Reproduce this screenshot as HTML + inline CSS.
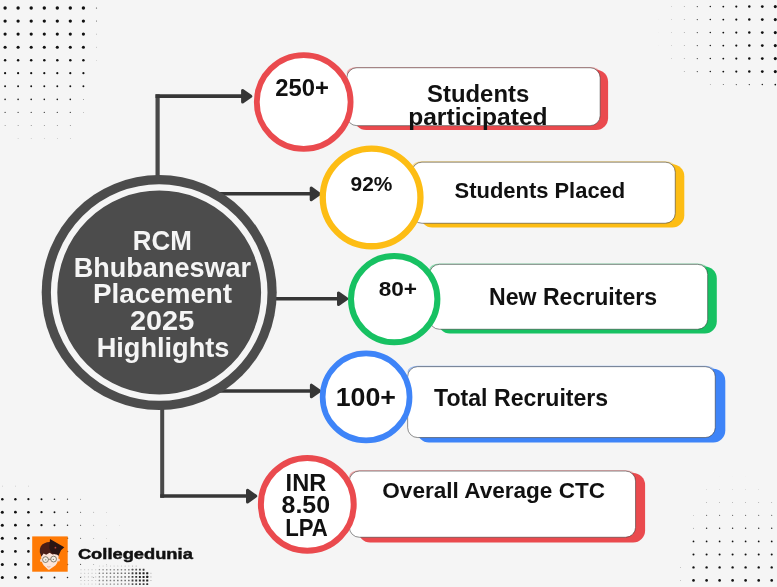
<!DOCTYPE html>
<html><head><meta charset="utf-8"><title>RCM Bhubaneswar Placement 2025 Highlights</title>
<style>html,body{margin:0;padding:0;background:#f5f5f5;}body{width:777px;height:587px;overflow:hidden;font-family:"Liberation Sans",sans-serif;}svg{display:block;will-change:transform;}text{font-family:"Liberation Sans",sans-serif;font-weight:bold;}</style>
</head><body>
<svg width="777" height="587" viewBox="0 0 777 587">
<rect width="777" height="587" fill="#f5f5f5"/>
<g><circle cx="5.1" cy="8.0" r="1.70" fill="#111" fill-opacity="1.00"/><circle cx="18.1" cy="8.0" r="1.70" fill="#111" fill-opacity="1.00"/><circle cx="31.2" cy="8.0" r="1.70" fill="#111" fill-opacity="1.00"/><circle cx="44.3" cy="8.0" r="1.70" fill="#111" fill-opacity="1.00"/><circle cx="57.3" cy="8.0" r="1.70" fill="#111" fill-opacity="1.00"/><circle cx="70.3" cy="8.0" r="1.70" fill="#111" fill-opacity="1.00"/><circle cx="83.4" cy="8.0" r="1.70" fill="#111" fill-opacity="1.00"/><circle cx="96.5" cy="8.0" r="0.60" fill="#111" fill-opacity="0.80"/><circle cx="5.1" cy="21.1" r="1.65" fill="#111" fill-opacity="1.00"/><circle cx="18.1" cy="21.1" r="1.65" fill="#111" fill-opacity="1.00"/><circle cx="31.2" cy="21.1" r="1.65" fill="#111" fill-opacity="1.00"/><circle cx="44.3" cy="21.1" r="1.65" fill="#111" fill-opacity="1.00"/><circle cx="57.3" cy="21.1" r="1.65" fill="#111" fill-opacity="1.00"/><circle cx="70.3" cy="21.1" r="1.65" fill="#111" fill-opacity="1.00"/><circle cx="83.4" cy="21.1" r="1.65" fill="#111" fill-opacity="1.00"/><circle cx="96.5" cy="21.1" r="0.50" fill="#111" fill-opacity="0.72"/><circle cx="5.1" cy="34.1" r="1.60" fill="#111" fill-opacity="1.00"/><circle cx="18.1" cy="34.1" r="1.60" fill="#111" fill-opacity="1.00"/><circle cx="31.2" cy="34.1" r="1.60" fill="#111" fill-opacity="1.00"/><circle cx="44.3" cy="34.1" r="1.60" fill="#111" fill-opacity="1.00"/><circle cx="57.3" cy="34.1" r="1.60" fill="#111" fill-opacity="1.00"/><circle cx="70.3" cy="34.1" r="1.60" fill="#111" fill-opacity="1.00"/><circle cx="83.4" cy="34.1" r="1.60" fill="#111" fill-opacity="1.00"/><circle cx="96.5" cy="34.1" r="0.40" fill="#111" fill-opacity="0.65"/><circle cx="5.1" cy="47.2" r="1.55" fill="#111" fill-opacity="1.00"/><circle cx="18.1" cy="47.2" r="1.55" fill="#111" fill-opacity="1.00"/><circle cx="31.2" cy="47.2" r="1.55" fill="#111" fill-opacity="1.00"/><circle cx="44.3" cy="47.2" r="1.55" fill="#111" fill-opacity="1.00"/><circle cx="57.3" cy="47.2" r="1.55" fill="#111" fill-opacity="1.00"/><circle cx="70.3" cy="47.2" r="1.55" fill="#111" fill-opacity="1.00"/><circle cx="83.4" cy="47.2" r="1.55" fill="#111" fill-opacity="1.00"/><circle cx="96.5" cy="47.2" r="0.35" fill="#111" fill-opacity="0.61"/><circle cx="5.1" cy="60.2" r="1.25" fill="#111" fill-opacity="1.00"/><circle cx="18.1" cy="60.2" r="1.25" fill="#111" fill-opacity="1.00"/><circle cx="31.2" cy="60.2" r="1.25" fill="#111" fill-opacity="1.00"/><circle cx="44.3" cy="60.2" r="1.25" fill="#111" fill-opacity="1.00"/><circle cx="57.3" cy="60.2" r="1.25" fill="#111" fill-opacity="1.00"/><circle cx="70.3" cy="60.2" r="1.25" fill="#111" fill-opacity="1.00"/><circle cx="83.4" cy="60.2" r="1.25" fill="#111" fill-opacity="1.00"/><circle cx="96.5" cy="60.2" r="0.30" fill="#111" fill-opacity="0.57"/><circle cx="5.1" cy="73.2" r="1.10" fill="#111" fill-opacity="1.00"/><circle cx="18.1" cy="73.2" r="1.10" fill="#111" fill-opacity="1.00"/><circle cx="31.2" cy="73.2" r="1.10" fill="#111" fill-opacity="1.00"/><circle cx="44.3" cy="73.2" r="1.10" fill="#111" fill-opacity="1.00"/><circle cx="57.3" cy="73.2" r="1.10" fill="#111" fill-opacity="1.00"/><circle cx="70.3" cy="73.2" r="1.10" fill="#111" fill-opacity="1.00"/><circle cx="83.4" cy="73.2" r="1.10" fill="#111" fill-opacity="1.00"/><circle cx="5.1" cy="86.3" r="0.95" fill="#111" fill-opacity="1.00"/><circle cx="18.1" cy="86.3" r="0.95" fill="#111" fill-opacity="1.00"/><circle cx="31.2" cy="86.3" r="0.95" fill="#111" fill-opacity="1.00"/><circle cx="44.3" cy="86.3" r="0.95" fill="#111" fill-opacity="1.00"/><circle cx="57.3" cy="86.3" r="0.95" fill="#111" fill-opacity="1.00"/><circle cx="70.3" cy="86.3" r="0.95" fill="#111" fill-opacity="1.00"/><circle cx="83.4" cy="86.3" r="0.95" fill="#111" fill-opacity="1.00"/><circle cx="5.1" cy="99.4" r="0.80" fill="#111" fill-opacity="0.95"/><circle cx="18.1" cy="99.4" r="0.80" fill="#111" fill-opacity="0.95"/><circle cx="31.2" cy="99.4" r="0.80" fill="#111" fill-opacity="0.95"/><circle cx="44.3" cy="99.4" r="0.80" fill="#111" fill-opacity="0.95"/><circle cx="57.3" cy="99.4" r="0.80" fill="#111" fill-opacity="0.95"/><circle cx="70.3" cy="99.4" r="0.80" fill="#111" fill-opacity="0.95"/><circle cx="83.4" cy="99.4" r="0.48" fill="#111" fill-opacity="0.71"/><circle cx="5.1" cy="112.4" r="0.62" fill="#111" fill-opacity="0.81"/><circle cx="18.1" cy="112.4" r="0.62" fill="#111" fill-opacity="0.81"/><circle cx="31.2" cy="112.4" r="0.62" fill="#111" fill-opacity="0.81"/><circle cx="44.3" cy="112.4" r="0.62" fill="#111" fill-opacity="0.81"/><circle cx="57.3" cy="112.4" r="0.62" fill="#111" fill-opacity="0.81"/><circle cx="70.3" cy="112.4" r="0.62" fill="#111" fill-opacity="0.81"/><circle cx="83.4" cy="112.4" r="0.37" fill="#111" fill-opacity="0.63"/><circle cx="5.1" cy="125.5" r="0.48" fill="#111" fill-opacity="0.71"/><circle cx="18.1" cy="125.5" r="0.48" fill="#111" fill-opacity="0.71"/><circle cx="31.2" cy="125.5" r="0.48" fill="#111" fill-opacity="0.71"/><circle cx="44.3" cy="125.5" r="0.48" fill="#111" fill-opacity="0.71"/><circle cx="57.3" cy="125.5" r="0.48" fill="#111" fill-opacity="0.71"/><circle cx="70.3" cy="125.5" r="0.48" fill="#111" fill-opacity="0.71"/><circle cx="18.1" cy="138.5" r="0.36" fill="#111" fill-opacity="0.62"/><circle cx="31.2" cy="138.5" r="0.36" fill="#111" fill-opacity="0.62"/><circle cx="44.3" cy="138.5" r="0.36" fill="#111" fill-opacity="0.62"/><circle cx="57.3" cy="138.5" r="0.36" fill="#111" fill-opacity="0.62"/><circle cx="70.3" cy="138.5" r="0.36" fill="#111" fill-opacity="0.62"/></g>
<g><circle cx="671.3" cy="6.6" r="0.30" fill="#111" fill-opacity="0.58"/><circle cx="684.3" cy="6.6" r="0.46" fill="#111" fill-opacity="0.69"/><circle cx="697.3" cy="6.6" r="0.61" fill="#111" fill-opacity="0.81"/><circle cx="710.3" cy="6.6" r="0.77" fill="#111" fill-opacity="0.93"/><circle cx="723.3" cy="6.6" r="0.93" fill="#111" fill-opacity="1.00"/><circle cx="736.3" cy="6.6" r="1.08" fill="#111" fill-opacity="1.00"/><circle cx="749.3" cy="6.6" r="1.23" fill="#111" fill-opacity="1.00"/><circle cx="762.3" cy="6.6" r="1.39" fill="#111" fill-opacity="1.00"/><circle cx="775.3" cy="6.6" r="1.54" fill="#111" fill-opacity="1.00"/><circle cx="658.3" cy="19.6" r="0.15" fill="#111" fill-opacity="0.46"/><circle cx="671.3" cy="19.6" r="0.30" fill="#111" fill-opacity="0.58"/><circle cx="684.3" cy="19.6" r="0.46" fill="#111" fill-opacity="0.69"/><circle cx="697.3" cy="19.6" r="0.61" fill="#111" fill-opacity="0.81"/><circle cx="710.3" cy="19.6" r="0.77" fill="#111" fill-opacity="0.93"/><circle cx="723.3" cy="19.6" r="0.93" fill="#111" fill-opacity="1.00"/><circle cx="736.3" cy="19.6" r="1.08" fill="#111" fill-opacity="1.00"/><circle cx="749.3" cy="19.6" r="1.23" fill="#111" fill-opacity="1.00"/><circle cx="762.3" cy="19.6" r="1.39" fill="#111" fill-opacity="1.00"/><circle cx="775.3" cy="19.6" r="1.54" fill="#111" fill-opacity="1.00"/><circle cx="658.3" cy="32.6" r="0.15" fill="#111" fill-opacity="0.46"/><circle cx="671.3" cy="32.6" r="0.30" fill="#111" fill-opacity="0.58"/><circle cx="684.3" cy="32.6" r="0.46" fill="#111" fill-opacity="0.69"/><circle cx="697.3" cy="32.6" r="0.61" fill="#111" fill-opacity="0.81"/><circle cx="710.3" cy="32.6" r="0.77" fill="#111" fill-opacity="0.93"/><circle cx="723.3" cy="32.6" r="0.93" fill="#111" fill-opacity="1.00"/><circle cx="736.3" cy="32.6" r="1.08" fill="#111" fill-opacity="1.00"/><circle cx="749.3" cy="32.6" r="1.23" fill="#111" fill-opacity="1.00"/><circle cx="762.3" cy="32.6" r="1.39" fill="#111" fill-opacity="1.00"/><circle cx="775.3" cy="32.6" r="1.54" fill="#111" fill-opacity="1.00"/><circle cx="658.3" cy="45.6" r="0.15" fill="#111" fill-opacity="0.46"/><circle cx="671.3" cy="45.6" r="0.30" fill="#111" fill-opacity="0.58"/><circle cx="684.3" cy="45.6" r="0.46" fill="#111" fill-opacity="0.69"/><circle cx="697.3" cy="45.6" r="0.61" fill="#111" fill-opacity="0.81"/><circle cx="710.3" cy="45.6" r="0.77" fill="#111" fill-opacity="0.93"/><circle cx="723.3" cy="45.6" r="0.93" fill="#111" fill-opacity="1.00"/><circle cx="736.3" cy="45.6" r="1.08" fill="#111" fill-opacity="1.00"/><circle cx="749.3" cy="45.6" r="1.23" fill="#111" fill-opacity="1.00"/><circle cx="762.3" cy="45.6" r="1.39" fill="#111" fill-opacity="1.00"/><circle cx="775.3" cy="45.6" r="1.54" fill="#111" fill-opacity="1.00"/><circle cx="671.3" cy="58.6" r="0.30" fill="#111" fill-opacity="0.58"/><circle cx="684.3" cy="58.6" r="0.46" fill="#111" fill-opacity="0.69"/><circle cx="697.3" cy="58.6" r="0.61" fill="#111" fill-opacity="0.81"/><circle cx="710.3" cy="58.6" r="0.77" fill="#111" fill-opacity="0.93"/><circle cx="723.3" cy="58.6" r="0.93" fill="#111" fill-opacity="1.00"/><circle cx="736.3" cy="58.6" r="1.08" fill="#111" fill-opacity="1.00"/><circle cx="749.3" cy="58.6" r="1.23" fill="#111" fill-opacity="1.00"/><circle cx="762.3" cy="58.6" r="1.39" fill="#111" fill-opacity="1.00"/><circle cx="775.3" cy="58.6" r="1.54" fill="#111" fill-opacity="1.00"/><circle cx="684.3" cy="71.6" r="0.46" fill="#111" fill-opacity="0.69"/><circle cx="697.3" cy="71.6" r="0.61" fill="#111" fill-opacity="0.81"/><circle cx="710.3" cy="71.6" r="0.77" fill="#111" fill-opacity="0.93"/><circle cx="723.3" cy="71.6" r="0.93" fill="#111" fill-opacity="1.00"/><circle cx="736.3" cy="71.6" r="1.08" fill="#111" fill-opacity="1.00"/><circle cx="749.3" cy="71.6" r="1.23" fill="#111" fill-opacity="1.00"/><circle cx="762.3" cy="71.6" r="1.39" fill="#111" fill-opacity="1.00"/><circle cx="775.3" cy="71.6" r="1.54" fill="#111" fill-opacity="1.00"/><circle cx="710.3" cy="84.6" r="0.42" fill="#111" fill-opacity="0.67"/><circle cx="723.3" cy="84.6" r="0.51" fill="#111" fill-opacity="0.73"/><circle cx="736.3" cy="84.6" r="0.59" fill="#111" fill-opacity="0.80"/><circle cx="749.3" cy="84.6" r="0.68" fill="#111" fill-opacity="0.86"/><circle cx="762.3" cy="84.6" r="0.76" fill="#111" fill-opacity="0.92"/><circle cx="775.3" cy="84.6" r="0.85" fill="#111" fill-opacity="0.99"/></g>
<g><circle cx="719.6" cy="476.2" r="0.12" fill="#111" fill-opacity="0.44"/><circle cx="732.6" cy="476.2" r="0.12" fill="#111" fill-opacity="0.44"/><circle cx="745.6" cy="476.2" r="0.12" fill="#111" fill-opacity="0.44"/><circle cx="706.6" cy="489.2" r="0.27" fill="#111" fill-opacity="0.55"/><circle cx="719.6" cy="489.2" r="0.27" fill="#111" fill-opacity="0.55"/><circle cx="732.6" cy="489.2" r="0.27" fill="#111" fill-opacity="0.55"/><circle cx="745.6" cy="489.2" r="0.27" fill="#111" fill-opacity="0.55"/><circle cx="758.7" cy="489.2" r="0.27" fill="#111" fill-opacity="0.55"/><circle cx="706.6" cy="502.3" r="0.42" fill="#111" fill-opacity="0.67"/><circle cx="719.6" cy="502.3" r="0.42" fill="#111" fill-opacity="0.67"/><circle cx="732.6" cy="502.3" r="0.42" fill="#111" fill-opacity="0.67"/><circle cx="745.6" cy="502.3" r="0.42" fill="#111" fill-opacity="0.67"/><circle cx="758.7" cy="502.3" r="0.42" fill="#111" fill-opacity="0.67"/><circle cx="771.7" cy="502.3" r="0.42" fill="#111" fill-opacity="0.67"/><circle cx="693.5" cy="515.3" r="0.34" fill="#111" fill-opacity="0.61"/><circle cx="706.6" cy="515.3" r="0.57" fill="#111" fill-opacity="0.78"/><circle cx="719.6" cy="515.3" r="0.57" fill="#111" fill-opacity="0.78"/><circle cx="732.6" cy="515.3" r="0.57" fill="#111" fill-opacity="0.78"/><circle cx="745.6" cy="515.3" r="0.57" fill="#111" fill-opacity="0.78"/><circle cx="758.7" cy="515.3" r="0.57" fill="#111" fill-opacity="0.78"/><circle cx="771.7" cy="515.3" r="0.57" fill="#111" fill-opacity="0.78"/><circle cx="693.5" cy="528.3" r="0.43" fill="#111" fill-opacity="0.67"/><circle cx="706.6" cy="528.3" r="0.72" fill="#111" fill-opacity="0.89"/><circle cx="719.6" cy="528.3" r="0.72" fill="#111" fill-opacity="0.89"/><circle cx="732.6" cy="528.3" r="0.72" fill="#111" fill-opacity="0.89"/><circle cx="745.6" cy="528.3" r="0.72" fill="#111" fill-opacity="0.89"/><circle cx="758.7" cy="528.3" r="0.72" fill="#111" fill-opacity="0.89"/><circle cx="771.7" cy="528.3" r="0.72" fill="#111" fill-opacity="0.89"/><circle cx="693.5" cy="541.4" r="0.87" fill="#111" fill-opacity="1.00"/><circle cx="706.6" cy="541.4" r="0.87" fill="#111" fill-opacity="1.00"/><circle cx="719.6" cy="541.4" r="0.87" fill="#111" fill-opacity="1.00"/><circle cx="732.6" cy="541.4" r="0.87" fill="#111" fill-opacity="1.00"/><circle cx="745.6" cy="541.4" r="0.87" fill="#111" fill-opacity="1.00"/><circle cx="758.7" cy="541.4" r="0.87" fill="#111" fill-opacity="1.00"/><circle cx="771.7" cy="541.4" r="0.87" fill="#111" fill-opacity="1.00"/><circle cx="693.5" cy="554.4" r="1.02" fill="#111" fill-opacity="1.00"/><circle cx="706.6" cy="554.4" r="1.02" fill="#111" fill-opacity="1.00"/><circle cx="719.6" cy="554.4" r="1.02" fill="#111" fill-opacity="1.00"/><circle cx="732.6" cy="554.4" r="1.02" fill="#111" fill-opacity="1.00"/><circle cx="745.6" cy="554.4" r="1.02" fill="#111" fill-opacity="1.00"/><circle cx="758.7" cy="554.4" r="1.02" fill="#111" fill-opacity="1.00"/><circle cx="771.7" cy="554.4" r="1.02" fill="#111" fill-opacity="1.00"/><circle cx="680.5" cy="567.4" r="0.35" fill="#111" fill-opacity="0.61"/><circle cx="693.5" cy="567.4" r="1.17" fill="#111" fill-opacity="1.00"/><circle cx="706.6" cy="567.4" r="1.17" fill="#111" fill-opacity="1.00"/><circle cx="719.6" cy="567.4" r="1.17" fill="#111" fill-opacity="1.00"/><circle cx="732.6" cy="567.4" r="1.17" fill="#111" fill-opacity="1.00"/><circle cx="745.6" cy="567.4" r="1.17" fill="#111" fill-opacity="1.00"/><circle cx="758.7" cy="567.4" r="1.17" fill="#111" fill-opacity="1.00"/><circle cx="771.7" cy="567.4" r="1.17" fill="#111" fill-opacity="1.00"/><circle cx="680.5" cy="580.4" r="0.35" fill="#111" fill-opacity="0.61"/><circle cx="693.5" cy="580.4" r="1.32" fill="#111" fill-opacity="1.00"/><circle cx="706.6" cy="580.4" r="1.32" fill="#111" fill-opacity="1.00"/><circle cx="719.6" cy="580.4" r="1.32" fill="#111" fill-opacity="1.00"/><circle cx="732.6" cy="580.4" r="1.32" fill="#111" fill-opacity="1.00"/><circle cx="745.6" cy="580.4" r="1.32" fill="#111" fill-opacity="1.00"/><circle cx="758.7" cy="580.4" r="1.32" fill="#111" fill-opacity="1.00"/><circle cx="771.7" cy="580.4" r="1.32" fill="#111" fill-opacity="1.00"/></g>
<g><circle cx="2.3" cy="486.1" r="0.30" fill="#111" fill-opacity="0.57"/><circle cx="15.4" cy="486.1" r="0.30" fill="#111" fill-opacity="0.57"/><circle cx="28.4" cy="486.1" r="0.30" fill="#111" fill-opacity="0.57"/><circle cx="2.3" cy="499.2" r="1.27" fill="#111" fill-opacity="1.00"/><circle cx="15.4" cy="499.2" r="1.19" fill="#111" fill-opacity="1.00"/><circle cx="28.4" cy="499.2" r="1.10" fill="#111" fill-opacity="1.00"/><circle cx="41.5" cy="499.2" r="0.98" fill="#111" fill-opacity="1.00"/><circle cx="54.5" cy="499.2" r="0.81" fill="#111" fill-opacity="0.96"/><circle cx="67.5" cy="499.2" r="0.64" fill="#111" fill-opacity="0.83"/><circle cx="80.6" cy="499.2" r="0.47" fill="#111" fill-opacity="0.70"/><circle cx="2.3" cy="512.2" r="1.50" fill="#111" fill-opacity="1.00"/><circle cx="15.4" cy="512.2" r="1.40" fill="#111" fill-opacity="1.00"/><circle cx="28.4" cy="512.2" r="1.30" fill="#111" fill-opacity="1.00"/><circle cx="41.5" cy="512.2" r="1.15" fill="#111" fill-opacity="1.00"/><circle cx="54.5" cy="512.2" r="0.95" fill="#111" fill-opacity="1.00"/><circle cx="67.5" cy="512.2" r="0.75" fill="#111" fill-opacity="0.91"/><circle cx="80.6" cy="512.2" r="0.55" fill="#111" fill-opacity="0.76"/><circle cx="93.7" cy="512.2" r="0.42" fill="#111" fill-opacity="0.67"/><circle cx="106.7" cy="512.2" r="0.32" fill="#111" fill-opacity="0.59"/><circle cx="2.3" cy="525.2" r="1.50" fill="#111" fill-opacity="1.00"/><circle cx="15.4" cy="525.2" r="1.40" fill="#111" fill-opacity="1.00"/><circle cx="28.4" cy="525.2" r="1.30" fill="#111" fill-opacity="1.00"/><circle cx="41.5" cy="525.2" r="1.15" fill="#111" fill-opacity="1.00"/><circle cx="54.5" cy="525.2" r="0.95" fill="#111" fill-opacity="1.00"/><circle cx="67.5" cy="525.2" r="0.75" fill="#111" fill-opacity="0.91"/><circle cx="80.6" cy="525.2" r="0.55" fill="#111" fill-opacity="0.76"/><circle cx="93.7" cy="525.2" r="0.42" fill="#111" fill-opacity="0.67"/><circle cx="106.7" cy="525.2" r="0.32" fill="#111" fill-opacity="0.59"/><circle cx="119.8" cy="525.2" r="0.22" fill="#111" fill-opacity="0.52"/><circle cx="2.3" cy="538.3" r="1.50" fill="#111" fill-opacity="1.00"/><circle cx="15.4" cy="538.3" r="1.40" fill="#111" fill-opacity="1.00"/><circle cx="28.4" cy="538.3" r="1.30" fill="#111" fill-opacity="1.00"/><circle cx="41.5" cy="538.3" r="1.15" fill="#111" fill-opacity="1.00"/><circle cx="54.5" cy="538.3" r="0.95" fill="#111" fill-opacity="1.00"/><circle cx="67.5" cy="538.3" r="0.75" fill="#111" fill-opacity="0.91"/><circle cx="80.6" cy="538.3" r="0.55" fill="#111" fill-opacity="0.76"/><circle cx="93.7" cy="538.3" r="0.42" fill="#111" fill-opacity="0.67"/><circle cx="106.7" cy="538.3" r="0.32" fill="#111" fill-opacity="0.59"/><circle cx="2.3" cy="551.4" r="1.50" fill="#111" fill-opacity="1.00"/><circle cx="15.4" cy="551.4" r="1.40" fill="#111" fill-opacity="1.00"/><circle cx="28.4" cy="551.4" r="1.30" fill="#111" fill-opacity="1.00"/><circle cx="41.5" cy="551.4" r="1.15" fill="#111" fill-opacity="1.00"/><circle cx="54.5" cy="551.4" r="0.95" fill="#111" fill-opacity="1.00"/><circle cx="67.5" cy="551.4" r="0.75" fill="#111" fill-opacity="0.91"/><circle cx="80.6" cy="551.4" r="0.55" fill="#111" fill-opacity="0.76"/><circle cx="93.7" cy="551.4" r="0.42" fill="#111" fill-opacity="0.67"/><circle cx="106.7" cy="551.4" r="0.32" fill="#111" fill-opacity="0.59"/><circle cx="2.3" cy="564.4" r="1.50" fill="#111" fill-opacity="1.00"/><circle cx="15.4" cy="564.4" r="1.40" fill="#111" fill-opacity="1.00"/><circle cx="28.4" cy="564.4" r="1.30" fill="#111" fill-opacity="1.00"/><circle cx="41.5" cy="564.4" r="1.15" fill="#111" fill-opacity="1.00"/><circle cx="54.5" cy="564.4" r="0.95" fill="#111" fill-opacity="1.00"/><circle cx="67.5" cy="564.4" r="0.75" fill="#111" fill-opacity="0.91"/><circle cx="80.6" cy="564.4" r="0.55" fill="#111" fill-opacity="0.76"/><circle cx="93.7" cy="564.4" r="0.42" fill="#111" fill-opacity="0.67"/><circle cx="106.7" cy="564.4" r="0.32" fill="#111" fill-opacity="0.59"/><circle cx="2.3" cy="577.5" r="1.50" fill="#111" fill-opacity="1.00"/><circle cx="15.4" cy="577.5" r="1.40" fill="#111" fill-opacity="1.00"/><circle cx="28.4" cy="577.5" r="1.30" fill="#111" fill-opacity="1.00"/><circle cx="41.5" cy="577.5" r="1.15" fill="#111" fill-opacity="1.00"/><circle cx="54.5" cy="577.5" r="0.95" fill="#111" fill-opacity="1.00"/><circle cx="67.5" cy="577.5" r="0.75" fill="#111" fill-opacity="0.91"/><circle cx="80.6" cy="577.5" r="0.55" fill="#111" fill-opacity="0.76"/><circle cx="93.7" cy="577.5" r="0.42" fill="#111" fill-opacity="0.67"/><circle cx="106.7" cy="577.5" r="0.32" fill="#111" fill-opacity="0.59"/></g>
<g><rect x="98.89" y="565.59" width="1.01" height="1.01" rx="0.3" fill="#1a1a1a" fill-opacity="0.20"/><rect x="102.57" y="565.59" width="1.02" height="1.02" rx="0.3" fill="#1a1a1a" fill-opacity="0.21"/><rect x="106.25" y="565.59" width="1.02" height="1.02" rx="0.3" fill="#1a1a1a" fill-opacity="0.21"/><rect x="109.93" y="565.59" width="1.03" height="1.03" rx="0.3" fill="#1a1a1a" fill-opacity="0.22"/><rect x="113.60" y="565.58" width="1.03" height="1.03" rx="0.3" fill="#1a1a1a" fill-opacity="0.22"/><rect x="117.28" y="565.58" width="1.04" height="1.04" rx="0.3" fill="#1a1a1a" fill-opacity="0.22"/><rect x="120.96" y="565.58" width="1.04" height="1.04" rx="0.3" fill="#1a1a1a" fill-opacity="0.23"/><rect x="124.64" y="565.58" width="1.05" height="1.05" rx="0.3" fill="#1a1a1a" fill-opacity="0.23"/><rect x="128.31" y="565.57" width="1.05" height="1.05" rx="0.3" fill="#1a1a1a" fill-opacity="0.23"/><rect x="131.96" y="565.54" width="1.11" height="1.11" rx="0.3" fill="#1a1a1a" fill-opacity="0.28"/><rect x="135.64" y="565.54" width="1.12" height="1.12" rx="0.3" fill="#1a1a1a" fill-opacity="0.29"/><rect x="80.48" y="569.18" width="1.03" height="1.03" rx="0.3" fill="#1a1a1a" fill-opacity="0.22"/><rect x="84.16" y="569.18" width="1.03" height="1.03" rx="0.3" fill="#1a1a1a" fill-opacity="0.22"/><rect x="87.84" y="569.18" width="1.03" height="1.03" rx="0.3" fill="#1a1a1a" fill-opacity="0.22"/><rect x="91.52" y="569.18" width="1.03" height="1.03" rx="0.3" fill="#1a1a1a" fill-opacity="0.22"/><rect x="95.20" y="569.18" width="1.03" height="1.03" rx="0.3" fill="#1a1a1a" fill-opacity="0.22"/><rect x="98.74" y="569.04" width="1.33" height="1.33" rx="0.3" fill="#1a1a1a" fill-opacity="0.44"/><rect x="102.41" y="569.03" width="1.35" height="1.35" rx="0.3" fill="#1a1a1a" fill-opacity="0.46"/><rect x="106.08" y="569.02" width="1.37" height="1.37" rx="0.3" fill="#1a1a1a" fill-opacity="0.47"/><rect x="109.75" y="569.01" width="1.39" height="1.39" rx="0.3" fill="#1a1a1a" fill-opacity="0.49"/><rect x="113.42" y="569.00" width="1.41" height="1.41" rx="0.3" fill="#1a1a1a" fill-opacity="0.50"/><rect x="117.08" y="568.98" width="1.43" height="1.43" rx="0.3" fill="#1a1a1a" fill-opacity="0.52"/><rect x="120.75" y="568.97" width="1.45" height="1.45" rx="0.3" fill="#1a1a1a" fill-opacity="0.53"/><rect x="124.42" y="568.96" width="1.47" height="1.47" rx="0.3" fill="#1a1a1a" fill-opacity="0.55"/><rect x="128.09" y="568.95" width="1.49" height="1.49" rx="0.3" fill="#1a1a1a" fill-opacity="0.56"/><rect x="131.66" y="568.84" width="1.72" height="1.72" rx="0.3" fill="#1a1a1a" fill-opacity="0.73"/><rect x="135.32" y="568.82" width="1.77" height="1.77" rx="0.3" fill="#1a1a1a" fill-opacity="0.77"/><rect x="138.97" y="568.79" width="1.82" height="1.82" rx="0.3" fill="#1a1a1a" fill-opacity="0.81"/><rect x="142.63" y="568.77" width="1.87" height="1.87" rx="0.3" fill="#1a1a1a" fill-opacity="0.85"/><rect x="80.47" y="572.77" width="1.06" height="1.06" rx="0.3" fill="#1a1a1a" fill-opacity="0.24"/><rect x="84.15" y="572.77" width="1.06" height="1.06" rx="0.3" fill="#1a1a1a" fill-opacity="0.24"/><rect x="87.83" y="572.77" width="1.06" height="1.06" rx="0.3" fill="#1a1a1a" fill-opacity="0.24"/><rect x="91.51" y="572.77" width="1.06" height="1.06" rx="0.3" fill="#1a1a1a" fill-opacity="0.24"/><rect x="95.19" y="572.77" width="1.06" height="1.06" rx="0.3" fill="#1a1a1a" fill-opacity="0.24"/><rect x="98.70" y="572.60" width="1.40" height="1.40" rx="0.3" fill="#1a1a1a" fill-opacity="0.50"/><rect x="102.37" y="572.59" width="1.43" height="1.43" rx="0.3" fill="#1a1a1a" fill-opacity="0.52"/><rect x="106.03" y="572.57" width="1.45" height="1.45" rx="0.3" fill="#1a1a1a" fill-opacity="0.53"/><rect x="109.70" y="572.56" width="1.48" height="1.48" rx="0.3" fill="#1a1a1a" fill-opacity="0.55"/><rect x="113.37" y="572.55" width="1.50" height="1.50" rx="0.3" fill="#1a1a1a" fill-opacity="0.57"/><rect x="117.04" y="572.54" width="1.52" height="1.52" rx="0.3" fill="#1a1a1a" fill-opacity="0.59"/><rect x="120.71" y="572.53" width="1.55" height="1.55" rx="0.3" fill="#1a1a1a" fill-opacity="0.61"/><rect x="124.37" y="572.51" width="1.57" height="1.57" rx="0.3" fill="#1a1a1a" fill-opacity="0.62"/><rect x="128.04" y="572.50" width="1.60" height="1.60" rx="0.3" fill="#1a1a1a" fill-opacity="0.64"/><rect x="131.59" y="572.37" width="1.86" height="1.86" rx="0.3" fill="#1a1a1a" fill-opacity="0.84"/><rect x="135.24" y="572.34" width="1.92" height="1.92" rx="0.3" fill="#1a1a1a" fill-opacity="0.89"/><rect x="138.89" y="572.31" width="1.98" height="1.98" rx="0.3" fill="#1a1a1a" fill-opacity="0.93"/><rect x="142.54" y="572.28" width="2.04" height="2.04" rx="0.3" fill="#1a1a1a" fill-opacity="0.98"/><rect x="146.19" y="572.25" width="2.10" height="2.10" rx="0.3" fill="#1a1a1a" fill-opacity="1.00"/><rect x="150.35" y="572.73" width="1.14" height="1.14" rx="0.3" fill="#1a1a1a" fill-opacity="0.30"/><rect x="80.47" y="576.37" width="1.06" height="1.06" rx="0.3" fill="#1a1a1a" fill-opacity="0.24"/><rect x="84.15" y="576.37" width="1.06" height="1.06" rx="0.3" fill="#1a1a1a" fill-opacity="0.24"/><rect x="87.83" y="576.37" width="1.06" height="1.06" rx="0.3" fill="#1a1a1a" fill-opacity="0.24"/><rect x="91.51" y="576.37" width="1.06" height="1.06" rx="0.3" fill="#1a1a1a" fill-opacity="0.24"/><rect x="95.19" y="576.37" width="1.06" height="1.06" rx="0.3" fill="#1a1a1a" fill-opacity="0.24"/><rect x="98.70" y="576.20" width="1.40" height="1.40" rx="0.3" fill="#1a1a1a" fill-opacity="0.50"/><rect x="102.37" y="576.19" width="1.43" height="1.43" rx="0.3" fill="#1a1a1a" fill-opacity="0.52"/><rect x="106.03" y="576.17" width="1.45" height="1.45" rx="0.3" fill="#1a1a1a" fill-opacity="0.53"/><rect x="109.70" y="576.16" width="1.48" height="1.48" rx="0.3" fill="#1a1a1a" fill-opacity="0.55"/><rect x="113.37" y="576.15" width="1.50" height="1.50" rx="0.3" fill="#1a1a1a" fill-opacity="0.57"/><rect x="117.04" y="576.14" width="1.52" height="1.52" rx="0.3" fill="#1a1a1a" fill-opacity="0.59"/><rect x="120.71" y="576.13" width="1.55" height="1.55" rx="0.3" fill="#1a1a1a" fill-opacity="0.61"/><rect x="124.37" y="576.11" width="1.57" height="1.57" rx="0.3" fill="#1a1a1a" fill-opacity="0.62"/><rect x="128.04" y="576.10" width="1.60" height="1.60" rx="0.3" fill="#1a1a1a" fill-opacity="0.64"/><rect x="131.59" y="575.97" width="1.86" height="1.86" rx="0.3" fill="#1a1a1a" fill-opacity="0.84"/><rect x="135.24" y="575.94" width="1.92" height="1.92" rx="0.3" fill="#1a1a1a" fill-opacity="0.89"/><rect x="138.89" y="575.91" width="1.98" height="1.98" rx="0.3" fill="#1a1a1a" fill-opacity="0.93"/><rect x="142.54" y="575.88" width="2.04" height="2.04" rx="0.3" fill="#1a1a1a" fill-opacity="0.98"/><rect x="146.19" y="575.85" width="2.10" height="2.10" rx="0.3" fill="#1a1a1a" fill-opacity="1.00"/><rect x="150.35" y="576.33" width="1.14" height="1.14" rx="0.3" fill="#1a1a1a" fill-opacity="0.30"/><rect x="80.47" y="579.97" width="1.06" height="1.06" rx="0.3" fill="#1a1a1a" fill-opacity="0.24"/><rect x="84.15" y="579.97" width="1.06" height="1.06" rx="0.3" fill="#1a1a1a" fill-opacity="0.24"/><rect x="87.83" y="579.97" width="1.06" height="1.06" rx="0.3" fill="#1a1a1a" fill-opacity="0.24"/><rect x="91.51" y="579.97" width="1.06" height="1.06" rx="0.3" fill="#1a1a1a" fill-opacity="0.24"/><rect x="95.19" y="579.97" width="1.06" height="1.06" rx="0.3" fill="#1a1a1a" fill-opacity="0.24"/><rect x="98.70" y="579.80" width="1.40" height="1.40" rx="0.3" fill="#1a1a1a" fill-opacity="0.50"/><rect x="102.37" y="579.79" width="1.43" height="1.43" rx="0.3" fill="#1a1a1a" fill-opacity="0.52"/><rect x="106.03" y="579.77" width="1.45" height="1.45" rx="0.3" fill="#1a1a1a" fill-opacity="0.53"/><rect x="109.70" y="579.76" width="1.48" height="1.48" rx="0.3" fill="#1a1a1a" fill-opacity="0.55"/><rect x="113.37" y="579.75" width="1.50" height="1.50" rx="0.3" fill="#1a1a1a" fill-opacity="0.57"/><rect x="117.04" y="579.74" width="1.52" height="1.52" rx="0.3" fill="#1a1a1a" fill-opacity="0.59"/><rect x="120.71" y="579.73" width="1.55" height="1.55" rx="0.3" fill="#1a1a1a" fill-opacity="0.61"/><rect x="124.37" y="579.71" width="1.57" height="1.57" rx="0.3" fill="#1a1a1a" fill-opacity="0.62"/><rect x="128.04" y="579.70" width="1.60" height="1.60" rx="0.3" fill="#1a1a1a" fill-opacity="0.64"/><rect x="131.59" y="579.57" width="1.86" height="1.86" rx="0.3" fill="#1a1a1a" fill-opacity="0.84"/><rect x="135.24" y="579.54" width="1.92" height="1.92" rx="0.3" fill="#1a1a1a" fill-opacity="0.89"/><rect x="138.89" y="579.51" width="1.98" height="1.98" rx="0.3" fill="#1a1a1a" fill-opacity="0.93"/><rect x="142.54" y="579.48" width="2.04" height="2.04" rx="0.3" fill="#1a1a1a" fill-opacity="0.98"/><rect x="146.19" y="579.45" width="2.10" height="2.10" rx="0.3" fill="#1a1a1a" fill-opacity="1.00"/><rect x="150.35" y="579.93" width="1.14" height="1.14" rx="0.3" fill="#1a1a1a" fill-opacity="0.30"/><rect x="80.48" y="583.58" width="1.03" height="1.03" rx="0.3" fill="#1a1a1a" fill-opacity="0.22"/><rect x="84.16" y="583.58" width="1.03" height="1.03" rx="0.3" fill="#1a1a1a" fill-opacity="0.22"/><rect x="87.84" y="583.58" width="1.03" height="1.03" rx="0.3" fill="#1a1a1a" fill-opacity="0.22"/><rect x="91.52" y="583.58" width="1.03" height="1.03" rx="0.3" fill="#1a1a1a" fill-opacity="0.22"/><rect x="95.20" y="583.58" width="1.03" height="1.03" rx="0.3" fill="#1a1a1a" fill-opacity="0.22"/><rect x="98.74" y="583.44" width="1.33" height="1.33" rx="0.3" fill="#1a1a1a" fill-opacity="0.44"/><rect x="102.41" y="583.43" width="1.35" height="1.35" rx="0.3" fill="#1a1a1a" fill-opacity="0.46"/><rect x="106.08" y="583.42" width="1.37" height="1.37" rx="0.3" fill="#1a1a1a" fill-opacity="0.47"/><rect x="109.75" y="583.41" width="1.39" height="1.39" rx="0.3" fill="#1a1a1a" fill-opacity="0.49"/><rect x="113.42" y="583.39" width="1.41" height="1.41" rx="0.3" fill="#1a1a1a" fill-opacity="0.50"/><rect x="117.08" y="583.38" width="1.43" height="1.43" rx="0.3" fill="#1a1a1a" fill-opacity="0.52"/><rect x="120.75" y="583.37" width="1.45" height="1.45" rx="0.3" fill="#1a1a1a" fill-opacity="0.53"/><rect x="124.42" y="583.36" width="1.47" height="1.47" rx="0.3" fill="#1a1a1a" fill-opacity="0.55"/><rect x="128.09" y="583.35" width="1.49" height="1.49" rx="0.3" fill="#1a1a1a" fill-opacity="0.56"/><rect x="131.66" y="583.24" width="1.72" height="1.72" rx="0.3" fill="#1a1a1a" fill-opacity="0.73"/><rect x="135.32" y="583.22" width="1.77" height="1.77" rx="0.3" fill="#1a1a1a" fill-opacity="0.77"/><rect x="138.97" y="583.19" width="1.82" height="1.82" rx="0.3" fill="#1a1a1a" fill-opacity="0.81"/><rect x="142.63" y="583.17" width="1.87" height="1.87" rx="0.3" fill="#1a1a1a" fill-opacity="0.85"/><rect x="146.28" y="583.14" width="1.92" height="1.92" rx="0.3" fill="#1a1a1a" fill-opacity="0.89"/></g>
<rect x="155.5" y="94.3" width="4.2" height="90" fill="#494949"/>
<rect x="160.2" y="400" width="4.0" height="97.8" fill="#494949"/>
<g fill="none" stroke="#363636" stroke-width="3.6">
<path d="M155.5 96.1 H243"/>
<path d="M200 193.8 H312"/>
<path d="M250 298.7 H340"/>
<path d="M200 391.0 H312"/>
<path d="M160.2 496.05 H248"/>
</g>
<path d="M250.85 96.30 L242.60 90.47 L242.60 102.12 Z" fill="#363636" stroke="#363636" stroke-width="3.0" stroke-linejoin="round"/>
<path d="M319.45 193.90 L311.20 188.08 L311.20 199.72 Z" fill="#363636" stroke="#363636" stroke-width="3.0" stroke-linejoin="round"/>
<path d="M346.75 298.80 L338.50 292.98 L338.50 304.62 Z" fill="#363636" stroke="#363636" stroke-width="3.0" stroke-linejoin="round"/>
<path d="M319.65 391.00 L311.40 385.18 L311.40 396.82 Z" fill="#363636" stroke="#363636" stroke-width="3.0" stroke-linejoin="round"/>
<path d="M255.75 496.10 L247.50 490.28 L247.50 501.93 Z" fill="#363636" stroke="#363636" stroke-width="3.0" stroke-linejoin="round"/>
<circle cx="159.2" cy="292.5" r="117.5" fill="#4c4c4c"/>
<circle cx="159.2" cy="292.5" r="105.1" fill="none" stroke="#f5f5f5" stroke-width="6.4"/>
<text x="132.70" y="249.70" font-size="27.2" fill="#f5f5f5" textLength="59.05" lengthAdjust="spacingAndGlyphs">RCM</text>
<text x="73.80" y="276.50" font-size="27.2" fill="#f5f5f5" textLength="177.30" lengthAdjust="spacingAndGlyphs">Bhubaneswar</text>
<text x="93.05" y="303.30" font-size="27.2" fill="#f5f5f5" textLength="139.05" lengthAdjust="spacingAndGlyphs">Placement</text>
<text x="129.95" y="330.40" font-size="27.2" fill="#f5f5f5" textLength="64.30" lengthAdjust="spacingAndGlyphs">2025</text>
<text x="96.65" y="356.80" font-size="27.2" fill="#f5f5f5" textLength="132.85" lengthAdjust="spacingAndGlyphs">Highlights</text>
<rect x="354.1" y="69.8" width="254.0" height="60.1" rx="12" fill="#ea4a4e"/><rect x="346.70" y="66.95" width="253.60" height="12" rx="10" fill="#ea4a4e" fill-opacity="0.45"/><rect x="346.85" y="67.75" width="253.30" height="57.90" rx="10" fill="#fff" stroke="#333" stroke-opacity="0.85" stroke-width="0.65"/>
<circle cx="303.7" cy="102.0" r="46.90" fill="#fff" stroke="#ea4a4e" stroke-width="5.8"/>
<rect x="420.3" y="164.2" width="264.0" height="63.4" rx="12" fill="#fdbd14"/><rect x="411.80" y="161.35" width="263.60" height="12" rx="10" fill="#fdbd14" fill-opacity="0.45"/><rect x="411.95" y="162.15" width="263.30" height="61.10" rx="10" fill="#fff" stroke="#333" stroke-opacity="0.85" stroke-width="0.65"/>
<circle cx="371.6" cy="197.4" r="48.85" fill="#fff" stroke="#fdbd14" stroke-width="6.3"/>
<rect x="437.9" y="266.4" width="278.9" height="67.2" rx="12" fill="#17c162"/><rect x="429.30" y="263.55" width="278.50" height="12" rx="10" fill="#17c162" fill-opacity="0.45"/><rect x="429.45" y="264.35" width="278.20" height="64.90" rx="10" fill="#fff" stroke="#333" stroke-opacity="0.85" stroke-width="0.65"/>
<circle cx="394.2" cy="299.1" r="43.20" fill="#fff" stroke="#17c162" stroke-width="6.0"/>
<rect x="417.0" y="368.7" width="308.3" height="73.9" rx="12" fill="#3e84f8"/><rect x="407.50" y="365.85" width="307.90" height="12" rx="10" fill="#3e84f8" fill-opacity="0.45"/><rect x="407.65" y="366.65" width="307.60" height="70.90" rx="10" fill="#fff" stroke="#333" stroke-opacity="0.85" stroke-width="0.65"/>
<circle cx="366.1" cy="396.9" r="43.45" fill="#fff" stroke="#3e84f8" stroke-width="5.7"/>
<rect x="358.2" y="473.1" width="286.9" height="69.4" rx="12" fill="#ea4a4e"/><rect x="349.20" y="470.25" width="286.50" height="12" rx="10" fill="#ea4a4e" fill-opacity="0.45"/><rect x="349.35" y="471.05" width="286.20" height="66.20" rx="10" fill="#fff" stroke="#333" stroke-opacity="0.85" stroke-width="0.65"/>
<circle cx="307.3" cy="504.3" r="46.40" fill="#fff" stroke="#ea4a4e" stroke-width="6.0"/>
<text x="275.35" y="95.70" font-size="23.1" fill="#111" textLength="53.65" lengthAdjust="spacingAndGlyphs">250+</text>
<text x="350.55" y="190.70" font-size="21.1" fill="#111" textLength="41.85" lengthAdjust="spacingAndGlyphs">92%</text>
<text x="378.65" y="295.70" font-size="21.1" fill="#111" textLength="38.35" lengthAdjust="spacingAndGlyphs">80+</text>
<text x="335.70" y="405.60" font-size="25.5" fill="#111" textLength="60.30" lengthAdjust="spacingAndGlyphs">100+</text>
<text x="285.60" y="490.90" font-size="23.3" fill="#111" textLength="40.65" lengthAdjust="spacingAndGlyphs">INR</text>
<text x="281.55" y="513.40" font-size="23.3" fill="#111" textLength="48.55" lengthAdjust="spacingAndGlyphs">8.50</text>
<text x="285.20" y="535.50" font-size="23.3" fill="#111" textLength="42.70" lengthAdjust="spacingAndGlyphs">LPA</text>
<text x="427.05" y="101.60" font-size="23.0" fill="#111" textLength="102.15" lengthAdjust="spacingAndGlyphs">Students</text>
<text x="408.15" y="124.80" font-size="23.0" fill="#111" textLength="139.50" lengthAdjust="spacingAndGlyphs">participated</text>
<text x="454.55" y="198.30" font-size="21.6" fill="#111" textLength="170.65" lengthAdjust="spacingAndGlyphs">Students Placed</text>
<text x="489.00" y="305.10" font-size="23.0" fill="#111" textLength="168.10" lengthAdjust="spacingAndGlyphs">New Recruiters</text>
<text x="434.10" y="405.50" font-size="23.2" fill="#111" textLength="174.10" lengthAdjust="spacingAndGlyphs">Total Recruiters</text>
<text x="382.30" y="498.30" font-size="22.5" fill="#111" textLength="222.75" lengthAdjust="spacingAndGlyphs">Overall Average CTC</text>
<g>
<rect x="32.2" y="536.4" width="35.5" height="35.3" fill="#ff7a05"/>
<ellipse cx="41.2" cy="560.4" rx="1.1" ry="1.6" fill="#f6d3c2"/>
<ellipse cx="58.8" cy="560.0" rx="1.1" ry="1.6" fill="#f6d3c2"/>
<path d="M41.3 552.5 Q40.6 561.5 43.6 565.2 L48.0 569.4 Q48.8 570.2 49.6 569.4 L55.6 565.2 Q59.2 561.0 58.7 552.5 Z" fill="#fbe4d8"/>
<path d="M47.2 566.6 Q48.8 567.6 50.4 566.6" stroke="#c9826f" stroke-width="0.6" fill="none"/>
<path d="M39.8 552.2 Q39.2 545.2 44.5 543.2 Q47.5 541.6 51 542 L56.5 546 L59 551.5 L58.6 556.6 L56.6 553.6 L52.5 554.6 L49.6 552.8 L46.2 554.8 L43.6 553.4 L41.4 556.8 Z" fill="#4b1e16"/>
<path d="M50.0 539.0 L64.3 547.3 L61.0 550.2 L58.8 555.0 L54.8 554.2 L51.2 552.6 L49.2 548.0 Z" fill="#2a1513"/>
<circle cx="55.4" cy="547.7" r="0.9" fill="#b7433b"/>
<circle cx="45.5" cy="559.6" r="2.9" fill="#f4efe6" stroke="#5f5a48" stroke-width="0.75"/>
<circle cx="53.6" cy="559.1" r="2.9" fill="#f4efe6" stroke="#5f5a48" stroke-width="0.75"/>
<path d="M48.4 559.3 H50.7" stroke="#5f5a48" stroke-width="0.7"/>
<circle cx="45.8" cy="559.8" r="0.6" fill="#6b5a4a"/>
<circle cx="53.3" cy="559.3" r="0.6" fill="#6b5a4a"/>
</g>
<text x="77.90" y="558.60" font-size="15.0" fill="#111" stroke="#111" stroke-width="0.45" textLength="114.95" lengthAdjust="spacingAndGlyphs">Collegedunia</text>
</svg>
</body></html>
